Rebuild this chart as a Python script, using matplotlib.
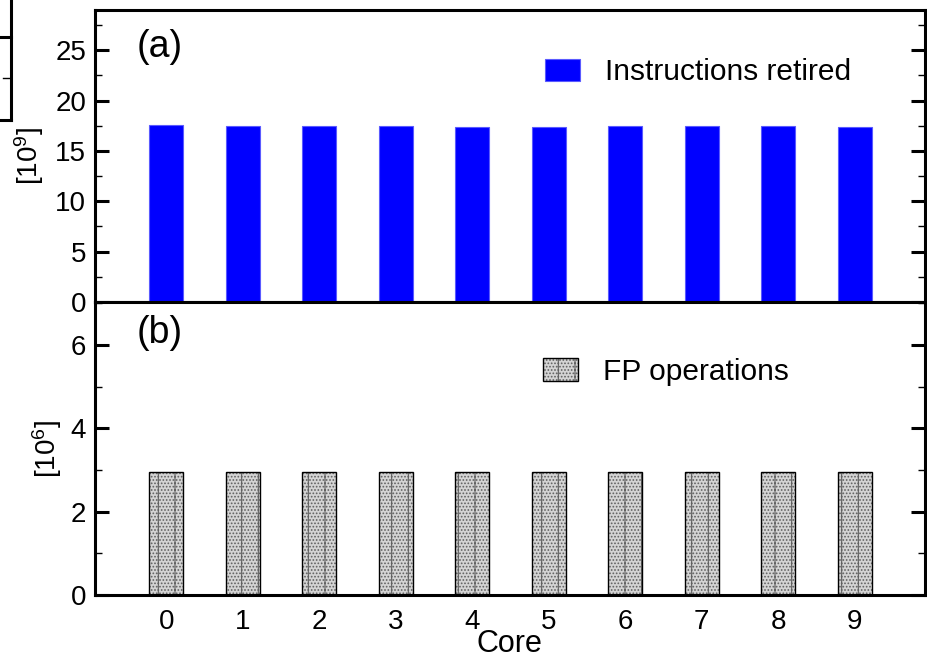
import matplotlib
matplotlib.use("Agg")
import matplotlib.pyplot as plt
from matplotlib.lines import Line2D
from matplotlib.ticker import MultipleLocator

plt.rcParams['font.family'] = ['Liberation Sans', 'DejaVu Sans']
plt.rcParams['mathtext.fontset'] = 'custom'
plt.rcParams['mathtext.rm'] = 'Liberation Sans'
plt.rcParams['mathtext.it'] = 'Liberation Sans:italic'
plt.rcParams['hatch.linewidth'] = 0.8

cores = [0, 1, 2, 3, 4, 5, 6, 7, 8, 9]
instructions_retired = [17.55, 17.45, 17.45, 17.45, 17.35, 17.35, 17.45, 17.45, 17.45, 17.35]
fp_operations = [2.96, 2.96, 2.96, 2.96, 2.96, 2.96, 2.96, 2.96, 2.96, 2.96]
top_yticks = [0, 5, 10, 15, 20, 25]
bottom_yticks = [0, 2, 4, 6]

W, H = 928, 659
fig = plt.figure(figsize=(W / 100, H / 100), dpi=100)

left = 94.5 / W
right = 925 / W
ax1 = fig.add_axes([left, (H - 302) / H, right - left, (302 - 10) / H])
ax2 = fig.add_axes([left, (H - 595) / H, right - left, (595 - 302) / H])

bw = 0.444
ax1.bar(cores, instructions_retired, width=bw, color='#0000ff', edgecolor='#5a5aff',
        linewidth=0.8, label='Instructions retired')
b_fill = ax2.bar(cores, fp_operations, width=bw, color='#d4d4d4', edgecolor='#606060',
                 hatch='|.....', linewidth=0)
b_edge = ax2.bar(cores, fp_operations, width=bw, fill=False, edgecolor='black', linewidth=1.0)

for ax in (ax1, ax2):
    ax.set_xlim(-0.94, 9.92)
    for s in ax.spines.values():
        s.set_linewidth(2.2)
    ax.tick_params(axis='y', which='major', direction='in', length=10, width=2.2,
                   labelsize=20, left=True, right=True, pad=6)
    ax.tick_params(axis='y', which='minor', direction='in', length=5, width=1.0,
                   left=True, right=True)
    ax.tick_params(axis='x', length=0)

ax1.set_ylim(0, 29)
ax1.set_yticks(top_yticks)
ax1.yaxis.set_minor_locator(MultipleLocator(2.5))
ax1.set_xticks(cores)
ax1.set_xticklabels([])

ax2.set_ylim(0, 7.03)
ax2.set_yticks(bottom_yticks)
ax2.yaxis.set_minor_locator(MultipleLocator(1))
ax2.set_xticks(cores)
ax2.set_xticklabels([str(c) for c in cores], fontsize=20)
ax2.tick_params(axis='x', pad=10)
ax2.set_xlabel('Core', fontsize=22, labelpad=-4)

ax1.set_ylabel(r'$[10^{9}]$', fontsize=20)
ax1.yaxis.set_label_coords(-0.058, 0.5)
ax2.set_ylabel(r'$[10^{6}]$', fontsize=20)
ax2.yaxis.set_label_coords(-0.037, 0.5)

ax1.text(0.078, 0.873, '(a)', transform=ax1.transAxes, fontsize=27, ha='center', va='center')
ax2.text(0.078, 0.894, '(b)', transform=ax2.transAxes, fontsize=27, ha='center', va='center')

ax1.legend(loc='upper left', bbox_to_anchor=((545 - 94.5) / 830.5, (302 - 58) / 292),
           frameon=False, fontsize=21.5, handlelength=1.17, handleheight=0.76,
           handletextpad=0.85, borderpad=0, borderaxespad=0)
ax2.legend([(b_fill, b_edge)], ['FP operations'], loc='upper left',
           bbox_to_anchor=((543 - 94.5) / 830.5, (595 - 358) / 293),
           frameon=False, fontsize=21.5, handlelength=1.17, handleheight=0.8,
           handletextpad=0.85, borderpad=0, borderaxespad=0)

# fragment of neighbouring figure at the top-left edge
def fl(x0, y0, x1, y1, lw):
    fig.add_artist(Line2D([x0 / W, x1 / W], [1 - y0 / H, 1 - y1 / H],
                          transform=fig.transFigure, color='black', linewidth=lw,
                          solid_capstyle='projecting'))

fl(11, 0, 11, 120, 2.2)
fl(0, 120, 11, 120, 2.2)
fl(0, 36.5, 11, 36.5, 2.2)
fl(3, 78, 11, 78, 1.0)

fig.savefig('out.png', dpi=100)
